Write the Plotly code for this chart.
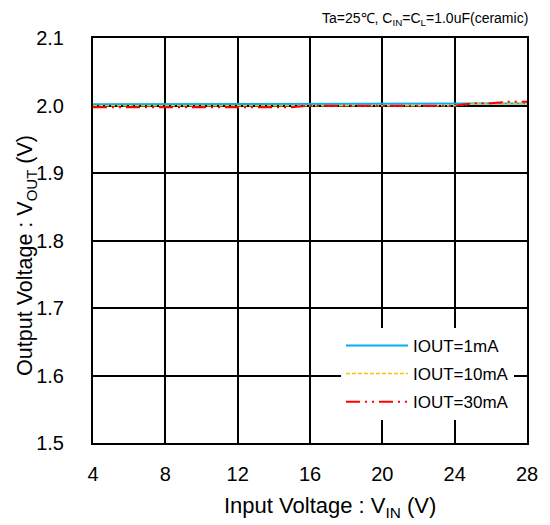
import plotly.graph_objects as go

# Input voltage (V)
vin = [4, 5, 6, 7, 8, 9, 10, 11, 12, 13, 14, 15, 16, 17, 18, 19, 20, 21, 22, 23, 24, 25, 26, 27, 28]

# Output voltage (V) per load current
vout_1ma = [2.0018, 2.0018, 2.0018, 2.0018, 2.0018, 2.0018, 2.0018, 2.0018, 2.0018, 2.0018, 2.0018,
            2.0018, 2.0018, 2.0018, 2.0018, 2.0018, 2.0018, 2.0018, 2.0018, 2.0018, 2.0018, 2.0028,
            2.0030, 2.0030, 2.0030]
vout_10ma = [1.9997, 1.9997, 1.9997, 1.9997, 1.9997, 1.9997, 1.9997, 1.9997, 1.9997, 1.9997, 1.9997,
             1.9997, 1.9997, 1.9997, 1.9997, 1.9997, 1.9997, 1.9997, 1.9997, 1.9997, 1.9997, 2.0022,
             2.0025, 2.0025, 2.0025]
vout_30ma = [1.9973, 1.9973, 1.9973, 1.9973, 1.9973, 1.9973, 1.9973, 1.9973, 1.9973, 1.9973, 1.9973,
             1.9975, 1.9997, 1.9997, 1.9997, 1.9997, 1.9997, 1.9997, 1.9997, 1.9997, 1.9997, 2.0033,
             2.0035, 2.0056, 2.0056]

x_ticks = [4, 8, 12, 16, 20, 24, 28]
y_ticks = [1.5, 1.6, 1.7, 1.8, 1.9, 2.0, 2.1]

FONT = "Liberation Sans, Arial, sans-serif"

fig = go.Figure()
fig.add_trace(go.Scatter(x=vin, y=vout_1ma, name="IOUT=1mA", mode="lines", legendgroup="a",
                         line=dict(color="#00B0F0", width=2)))
fig.add_trace(go.Scatter(x=vin, y=vout_10ma, name="IOUT=10mA", mode="lines", legendgroup="b",
                         line=dict(color="#FFC000", width=1.5, dash="4px,2px")))
fig.add_trace(go.Scatter(x=vin, y=vout_30ma, name="IOUT=30mA", mode="lines", legendgroup="c",
                         line=dict(color="#FF0000", width=2, dash="14px,5px,2px,5px,2px,5px")))

# page body has an 8px margin, so the figure is 8px smaller each way
fig.update_layout(
    width=542, height=517,
    margin=dict(l=85, r=17, t=30, b=82),
    paper_bgcolor="white", plot_bgcolor="white",
    font=dict(family=FONT, size=20, color="black"),
    showlegend=True,
    legend=dict(x=0.97, y=0.057, xanchor="right", yanchor="bottom",
                bgcolor="white", borderwidth=0, traceorder="grouped",
                font=dict(family=FONT, size=17, color="black"),
                itemwidth=62, tracegroupgap=3),
    xaxis=dict(range=[4, 28], tickvals=x_ticks, showgrid=True, gridcolor="black", gridwidth=2,
               showline=True, linecolor="black", linewidth=2, mirror=True, zeroline=False,
               ticks="", tickfont=dict(size=20), ticklabelstandoff=12),
    yaxis=dict(range=[1.5, 2.1], tickvals=y_ticks, tickformat=".1f", showgrid=True, gridcolor="black",
               gridwidth=2, showline=True, linecolor="black", linewidth=2, mirror=True, zeroline=False,
               ticks="", tickfont=dict(size=20), ticklabelstandoff=23),
    annotations=[
        dict(text="Ta=25\u2103, C<sub>IN</sub>=C<sub>L</sub>=1.0uF(ceramic)",
             xref="paper", yref="paper", x=1.0, y=1.0, xanchor="right", yanchor="middle",
             yshift=19, xshift=3, showarrow=False, font=dict(family=FONT, size=14, color="black")),
        dict(text="Input Voltage : V<sub>IN</sub> (V)",
             xref="paper", yref="paper", x=0.545, y=0, xanchor="center", yanchor="middle",
             yshift=-64, showarrow=False, font=dict(family=FONT, size=22, color="black")),
        dict(text="Output Voltage : V<sub>OUT</sub> (V)", textangle=-90,
             xref="paper", yref="paper", x=0, y=0.462, xanchor="center", yanchor="middle",
             xshift=-66, showarrow=False, font=dict(family=FONT, size=21.5, color="black")),
    ],
)

fig.write_html("out.html")
